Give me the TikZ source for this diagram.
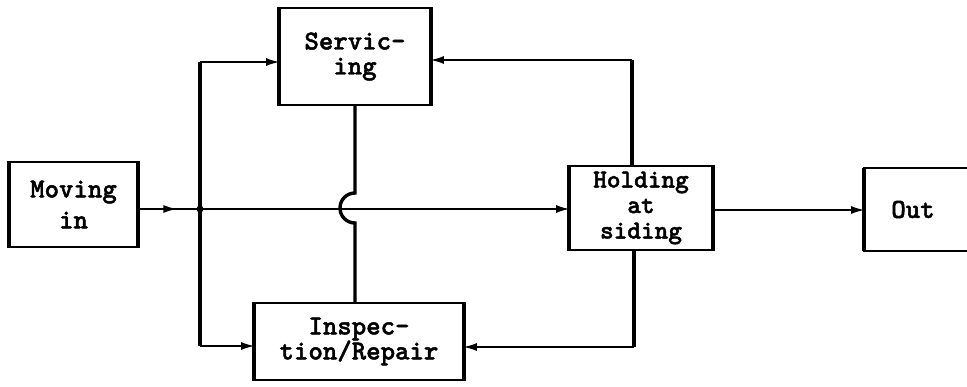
\documentclass[tikz,border=0pt]{standalone}
\usepackage{fontspec}
\newfontfamily\boxfont{lmmonolt10-bold.otf}[FakeBold=1.6]
\usetikzlibrary{arrows.meta,decorations.markings}
\begin{document}
\begin{tikzpicture}[x=1pt,y=-1pt,
  box/.style={draw, line width=1.8pt, inner sep=0pt, align=center,
    font=\boxfont\fontsize{27.5}{25}\selectfont},
  bar/.style={line width=3.4pt},
  thick connector/.style={line width=3.4pt},
  conn/.style={line width=1.2pt},
  tip/.style={-{Latex[length=13pt,width=8pt]}},
  midarrow/.style={postaction={decorate}, decoration={markings,
    mark=at position 0.62 with {\arrow{Latex[length=13pt,width=8pt]}}}}]
\useasboundingbox (0,0) rectangle (967,386);
\clip (0,0) rectangle (967,386);

% nodes
\node[box, minimum width=127pt, minimum height=85pt, font=\boxfont\fontsize{27.5}{31}\selectfont] (moving) at (73.5,204.5) {Moving\\in};
\node[box, minimum width=150pt, minimum height=97pt] (serv) at (355,56.5) {Servic-\\ing};
\node[box, minimum width=208pt, minimum height=77pt] (insp) at (359,341.5) {Inspec-\\tion/Repair};
\node[box, minimum width=142pt, minimum height=84pt, font=\boxfont\fontsize{26}{25.5}\selectfont] (hold) at (641,208) {Holding\\at\\siding};
\node[box, draw=none, minimum width=96pt, minimum height=81pt] (out) at (913,209.5) {Out};
\draw[line width=1.8pt] ([xshift=60pt]out.north east) -- (out.north west) -- (out.south west) -- ([xshift=60pt]out.south east);

% thicker vertical box sides
\foreach \n in {moving,serv,insp,hold}{
  \draw[bar] (\n.north west) -- (\n.south west) (\n.north east) -- (\n.south east);
}
\draw[bar] (out.north west) -- (out.south west);

% coordinates
\coordinate (J) at (200,209);
\coordinate (LT) at (200,62);
\coordinate (LB) at (200,346);
\coordinate (RT) at (632,60);
\coordinate (RB) at (634,347);
\coordinate (MT) at (355,193);
\coordinate (MB) at (355,223);

% main line
\draw[conn, midarrow] (moving.east |- J) -- (J);
\fill (J) circle (3.5pt);
\draw[conn, tip] (J) -- (J -| hold.west);
\draw[conn, tip] (hold.east |- 0,210) -- (out.west |- 0,210);

% left distribution
\draw[thick connector] (LT) -- (LB);
\draw[conn, tip] (LT) -- (LT -| serv.west);
\draw[conn, tip] (LB) -- (LB -| insp.west);

% middle link with hop
\draw[thick connector] (serv.south -| MT) -- (MT) arc[start angle=270, end angle=90, radius=15] -- (MB) -- (insp.north -| MB);

% right returns
\draw[thick connector] (RT |- hold.north) -- (RT);
\draw[conn, tip] (RT) -- (RT -| serv.east);
\draw[thick connector] (RB |- hold.south) -- (RB);
\draw[conn, tip] (RB) -- (RB -| insp.east);
\end{tikzpicture}
\end{document}
